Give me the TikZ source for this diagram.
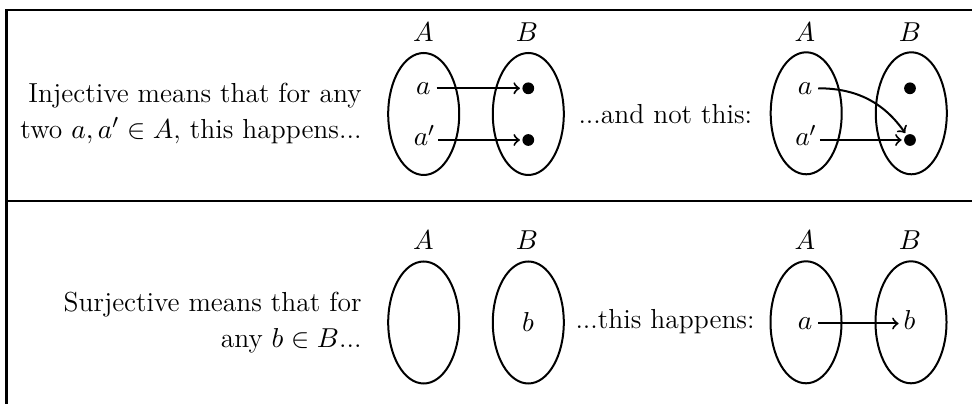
\documentclass[tikz,border=0pt]{standalone}
\usetikzlibrary{shapes.geometric}
\begin{document}
\begin{tikzpicture}[x=0.4pt,y=-0.4pt,
  every node/.style={font=\fontsize{11}{14.4}\selectfont},
  setshape/.style={draw, ellipse, line width=0.8pt, minimum width=28.4pt, minimum height=48.8pt, inner sep=0pt},
  setlabel/.style={anchor=base, inner sep=0pt},
  elem/.style={inner xsep=2.2pt, inner ysep=0pt, text height=4.8pt, text depth=0pt},
  dotpt/.style={circle, fill, minimum size=4.7pt, inner sep=0pt},
  maparrow/.style={->, line width=0.8pt, shorten >=0.8pt},
  frameline/.style={line width=1pt},
  caption/.style={anchor=base west, inner sep=0pt},
  lefttext/.style={align=right, anchor=east, inner sep=0pt}
]
\useasboundingbox (0,0) rectangle (972,404);
% frame
\coordinate (ftr) at (975,10);
\coordinate (ftl) at (6.5,10);
\coordinate (fbl) at (6.5,406);
\coordinate (fml) at (6.5,201);
\coordinate (fmr) at (975,201);
\draw[frameline] (ftr) -- (ftl) -- (fbl);
\draw[frameline] (fml) -- (fmr);

% ---------- row 1 ----------
\node[lefttext] (t1) at (362,113) {Injective means that for any\\ two $a,a'\in A$, this happens...};

\node[setshape] (EA1) at (423.7,114) {};
\node[setshape] (EB1) at (528.3,114) {};
\node[setlabel] (LA1) at (423.5,41.7) {$A$};
\node[setlabel] (LB1) at (527,41.7) {$B$};
\node[elem] (a1) at (423.3,88.3) {$a$};
\node[elem, inner xsep=1pt] (a1p) at (424.5,140) {$a'$};
\node[dotpt] (d1) at (528.3,88.3) {};
\node[dotpt] (d2) at (528.3,140) {};
\draw[maparrow] (a1) -- (d1);
\draw[maparrow] (a1p) -- (d2);

\node[caption] (c1) at (578,124) {...and not this:};

\node[setshape] (EA2) at (806.2,113.3) {};
\node[setshape] (EB2) at (911.3,113.3) {};
\node[setlabel] (LA2) at (805,41.7) {$A$};
\node[setlabel] (LB2) at (910,41.7) {$B$};
\node[elem] (a2) at (805,88.3) {$a$};
\node[elem, inner xsep=1pt] (a2p) at (806,140) {$a'$};
\node[dotpt] (d3) at (910,88.3) {};
\node[dotpt] (d4) at (910,140) {};
\draw[maparrow] (a2) to[out=0,in=125] (d4);
\draw[maparrow] (a2p) -- (d4);

% ---------- row 2 ----------
\node[lefttext] (t2) at (362,322.5) {Surjective means that for\\ any $b\in B$...};

\node[setshape] (EA3) at (423.7,322.5) {};
\node[setshape] (EB3) at (528.3,322.5) {};
\node[setlabel] (LA3) at (423.5,250) {$A$};
\node[setlabel] (LB3) at (527,250) {$B$};
\node[setlabel] (b3) at (528,331.7) {$b$};

\node[caption] (c2) at (575,329) {...this happens:};

\node[setshape] (EA4) at (806,322.3) {};
\node[setshape] (EB4) at (911,322.3) {};
\node[setlabel] (LA4) at (805,250) {$A$};
\node[setlabel] (LB4) at (910,250) {$B$};
\node[elem] (a4) at (805,323.5) {$a$};
\node[elem, inner xsep=1pt] (b4) at (909.5,323.5) {$b$};
\draw[maparrow] (a4) -- (b4);
\end{tikzpicture}
\end{document}
